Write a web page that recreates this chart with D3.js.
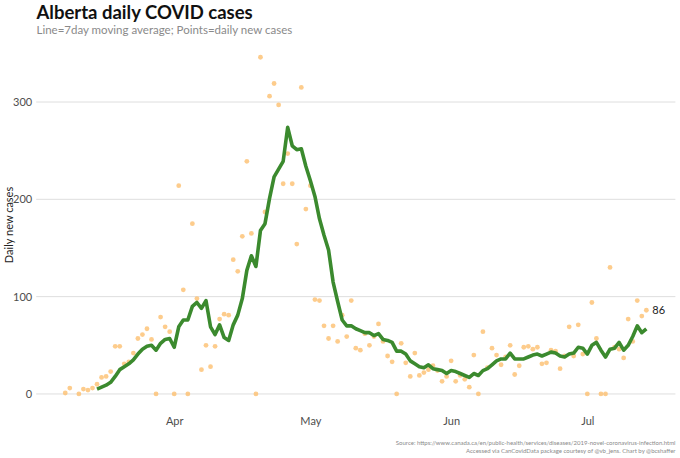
<!DOCTYPE html>
<html>
<head>
<meta charset="utf-8">
<script src="https://cdn.jsdelivr.net/npm/d3@7"></script>
<style>
  html, body { margin: 0; padding: 0; background: #fff; }
  svg { display: block; font-family: Lato, "Open Sans", sans-serif; }
</style>
</head>
<body>
<svg id="chart" width="680" height="458"></svg>
<script>
// ---- data ----
const startDate = "2020-03-08"; // first day of daily series
const dailyCases = [
  1, 6, null, 0, 5, 4, 6, 10, 17, 18, 23, 49, 49, 31, 33, 42, 57, 61, 67, 56,
  0, 79, 69, 64, 0, 214, 107, 0, 175, 98, 25, 50, 28, 49, 77, 82, 81, 138, 126, 162,
  239, 165, 0, 346, 187, 306, 319, 297, 216, 247, 216, 154, 315, 190, 214, 97, 96, 70, 57, 70,
  54, 81, 59, 96, 47, 45, 62, 50, 59, 72, 54, 39, 33, 0, 52, 32, 18, 42, 19, 22,
  25, 29, 24, 13, 18, 34, 13, 19, 15, 7, 40, 0, 64, 27, 47, 40, 30, 38, 50, 20,
  29, 48, 49, 46, 48, 31, 32, 45, 44, 26, 39, 69, 39, 71, 41, 0, 94, 57, 0, 0,
  130, 48, 46, 37, 77, 54, 96, 80, 86
];
const maStartIndex = 7; // moving average begins on this day of the series
const movingAvg = [
  5, 7, 9, 12, 18, 25, 28, 31, 35, 41, 46, 49, 50, 45, 52, 56, 57, 48, 69, 76,
  76, 90, 94, 88, 96, 69, 61, 71, 58, 55, 71, 81, 98, 127, 142, 131, 168, 175, 201, 223,
  231, 239, 274, 255, 251, 252, 234, 219, 203, 180, 163, 148, 115, 95, 76, 70, 70, 67, 65, 63,
  63, 60, 62, 56, 55, 53, 44, 44, 41, 34, 31, 28, 27, 30, 26, 25, 24, 21, 24, 23,
  21, 19, 17, 21, 19, 24, 26, 30, 34, 36, 36, 42, 36, 36, 36, 38, 40, 41, 39, 41,
  43, 42, 39, 38, 41, 42, 48, 47, 41, 50, 53, 45, 38, 46, 47, 53, 45, 50, 59, 70,
  63, 67
];
const lastLabel = "86";
const xTickDates = ["2020-04-01", "2020-05-01", "2020-06-01", "2020-07-01"];
const xTickLabels = ["Apr", "May", "Jun", "Jul"];
const yTicks = [0, 100, 200, 300];

const titleText = "Alberta daily COVID cases";
const subtitleText = "Line=7day moving average; Points=daily new cases";
const yTitle = "Daily new cases";
const captionLines = [
  "Source: https://www.canada.ca/en/public-health/services/diseases/2019-novel-coronavirus-infection.html",
  "Accessed via CanCovidData package courtesy of @vb_jens. Chart by @bcshaffer"
];

// ---- build ----
const parse = d3.utcParse("%Y-%m-%d");
const d0 = parse(startDate);
const points = dailyCases.map((v, i) => ({ date: d3.utcDay.offset(d0, i), value: v }))
  .filter(d => d.value !== null);
const maData = movingAvg.map((v, i) => ({ date: d3.utcDay.offset(d0, i + maStartIndex), value: v }));

const svg = d3.select("#chart");
const W = 680, H = 458;
const margin = { left: 36.2, right: 680 - 675.4, top: 40.4, bottom: 458 - 410.8 };

const dateExtent = d3.extent(points, d => d.date);
const span = dateExtent[1] - dateExtent[0];
const x = d3.scaleUtc()
  .domain([new Date(+dateExtent[0] - span * 0.05), new Date(+dateExtent[1] + span * 0.05)])
  .range([margin.left, W - margin.right]);

const yMax = d3.max(points, d => d.value);
const y = d3.scaleLinear()
  .domain([-yMax * 0.05, yMax * 1.05])
  .range([H - margin.bottom, margin.top]);

// gridlines
svg.append("g")
  .selectAll("line")
  .data(yTicks)
  .join("line")
  .attr("x1", margin.left).attr("x2", W - margin.right)
  .attr("y1", d => y(d)).attr("y2", d => y(d))
  .attr("stroke", "#dedede").attr("stroke-width", 1);

// y axis labels
const yAxis = d3.axisLeft(y).tickValues(yTicks).tickSize(0).tickPadding(4);
const gy = svg.append("g").attr("transform", `translate(${margin.left},0)`).call(yAxis);
gy.select(".domain").remove();
gy.selectAll("text").attr("font-size", 11).attr("fill", "#4d4d4d").attr("font-family", "Lato");

// x axis labels
const xAxis = d3.axisBottom(x)
  .tickValues(xTickDates.map(parse))
  .tickFormat((d, i) => xTickLabels[i])
  .tickSize(0).tickPadding(6);
const gx = svg.append("g").attr("transform", `translate(0,${H - margin.bottom})`).call(xAxis);
gx.select(".domain").remove();
gx.selectAll("text").attr("font-size", 11).attr("fill", "#4d4d4d").attr("font-family", "Lato");

// points
svg.append("g")
  .selectAll("circle")
  .data(points)
  .join("circle")
  .attr("cx", d => x(d.date))
  .attr("cy", d => y(d.value))
  .attr("r", 2.4)
  .attr("fill", "#fdbf6f")
  .attr("fill-opacity", 0.8);

// moving average line
svg.append("path")
  .datum(maData)
  .attr("fill", "none")
  .attr("stroke", "#3b8a2e")
  .attr("stroke-width", 3.6)
  .attr("stroke-linejoin", "round")
  .attr("d", d3.line().x(d => x(d.date)).y(d => y(d.value)));

// last value label
const lastPt = points[points.length - 1];
svg.append("text")
  .attr("x", x(lastPt.date) + 6)
  .attr("y", y(lastPt.value) + 4)
  .attr("font-size", 11)
  .attr("fill", "#222")
  .text(lastLabel);

// titles
svg.append("text")
  .attr("x", 36.5).attr("y", 19)
  .attr("font-size", 18.5).attr("font-weight", "bold").attr("fill", "#111")
  .text(titleText);
svg.append("text")
  .attr("x", 36.5).attr("y", 33.5)
  .attr("font-size", 11.5).attr("fill", "#8a8a8a")
  .text(subtitleText);

// y title
svg.append("text")
  .attr("transform", `translate(13,${(y(0) + y(300)) / 2 - 23}) rotate(-90)`)
  .attr("text-anchor", "middle")
  .attr("font-size", 11).attr("fill", "#222")
  .text(yTitle);

// caption
svg.append("g")
  .selectAll("text")
  .data(captionLines)
  .join("text")
  .attr("x", 675.5)
  .attr("y", (d, i) => 445 + i * 7.5)
  .attr("text-anchor", "end")
  .attr("font-size", 6)
  .attr("fill", "#8a8a8a")
  .text(d => d);
</script>
</body>
</html>
